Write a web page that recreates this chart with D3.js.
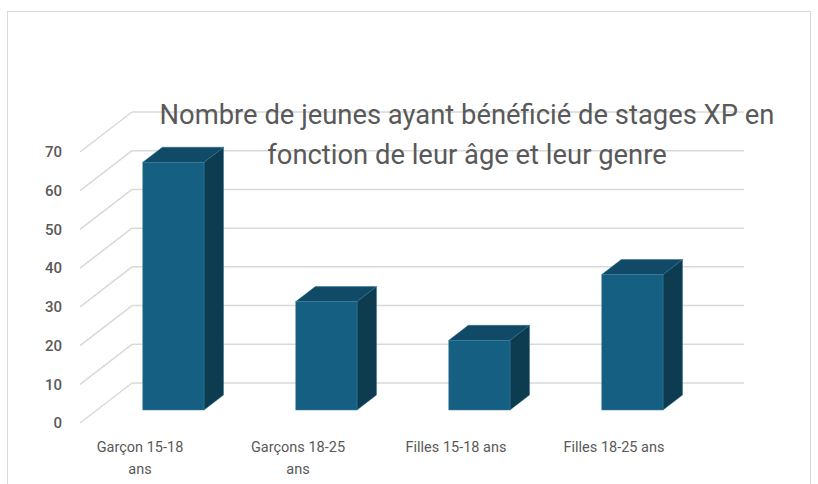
<!DOCTYPE html>
<html>
<head>
<meta charset="utf-8">
<script src="https://cdn.jsdelivr.net/npm/d3@7"></script>
<style>
  body { margin: 0; background: #fff; }
  svg { display: block; font-family: Roboto, "Open Sans", sans-serif; }
</style>
</head>
<body>
<div id="chart"></div>
<script>
// data
const categories = ['Garçon 15-18 ans', 'Garçons 18-25 ans', 'Filles 15-18 ans', 'Filles 18-25 ans'];
const labelLines = [['Garçon 15-18', 'ans'], ['Garçons 18-25', 'ans'], ['Filles 15-18 ans'], ['Filles 18-25 ans']];
const values = [64, 28, 18, 35];
const yTicks = [0, 10, 20, 30, 40, 50, 60, 70];
const titleLines = ['Nombre de jeunes ayant bénéficié de stages XP en', 'fonction de leur âge et leur genre'];

const width = 818;
const height = 484;

// 3d look: depth vector of the floor, bars sit in the middle of it
const depth = { dx: 52, dy: -40 };
const barFront = 0.325, barBack = 0.7;

const svg = d3.select('#chart').append('svg')
  .attr('width', width)
  .attr('height', height);

// chart area frame
svg.append('rect')
  .attr('x', 7.5).attr('y', 11.5)
  .attr('width', 803).attr('height', 490)
  .attr('fill', '#fff')
  .attr('stroke', '#d9d9d9')
  .attr('stroke-width', 1);

const x = d3.scaleBand()
  .domain(categories)
  .range([80, 692])
  .paddingInner(0.6)
  .paddingOuter(0.3);

const xLabel = d3.scaleBand()
  .domain(categories)
  .range([61, 693]);

const y = d3.scaleLinear()
  .domain([0, 70])
  .range([423, 152]);

const shift = (f) => [f * depth.dx, f * depth.dy];

// gridlines: back wall + diagonal on the left side wall
const grid = svg.append('g');
yTicks.forEach(t => {
  const [bx, by] = shift(1);
  grid.append('line')
    .attr('x1', x.range()[0] + bx).attr('x2', x.range()[1] + bx)
    .attr('y1', y(t) + by).attr('y2', y(t) + by)
    .attr('stroke', '#d9d9d9').attr('stroke-width', 1.5);
  grid.append('line')
    .attr('x1', x.range()[0]).attr('x2', x.range()[0] + bx)
    .attr('y1', y(t)).attr('y2', y(t) + by)
    .attr('stroke', '#d9d9d9').attr('stroke-width', 1.5);
});

// y labels
svg.append('g').selectAll('text')
  .data(yTicks)
  .join('text')
  .attr('x', 62)
  .attr('y', d => y(d))
  .attr('dy', '0.35em')
  .attr('text-anchor', 'end')
  .attr('fill', '#595959')
  .style('font-size', '15px')
  .style('font-weight', 500)
  .text(d => d);

// title (drawn before bars, the gridlines run through it)
const title = svg.append('g');
titleLines.forEach((line, i) => {
  title.append('text')
    .attr('x', 467)
    .attr('y', 124 + i * 40)
    .attr('text-anchor', 'middle')
    .attr('fill', '#595959')
    .style('font-size', '23px')
    .text(line);
});
// fit first line to the measured width of the original
const t0 = title.select('text').node();
const fs = 23 * 615 / t0.getComputedTextLength();
title.selectAll('text').style('font-size', fs + 'px');

// bars
const bars = svg.append('g').selectAll('g')
  .data(categories.map((c, i) => ({ cat: c, value: values[i] })))
  .join('g');

bars.each(function (d) {
  const g = d3.select(this);
  const [fx, fy] = shift(barFront);
  const [kx, ky] = shift(barBack);
  const xl = x(d.cat), xr = x(d.cat) + x.bandwidth();
  const yt = y(d.value), yb = y(0);

  // side
  g.append('path')
    .attr('d', `M${xr + fx},${yt + fy}L${xr + kx},${yt + ky}L${xr + kx},${yb + ky}L${xr + fx},${yb + fy}Z`)
    .attr('fill', '#0d3c51')
    .attr('stroke', '#2a6f8c').attr('stroke-width', 0.5);
  // top
  g.append('path')
    .attr('d', `M${xl + fx},${yt + fy}L${xr + fx},${yt + fy}L${xr + kx},${yt + ky}L${xl + kx},${yt + ky}Z`)
    .attr('fill', '#104a66')
    .attr('stroke', '#2a6f8c').attr('stroke-width', 0.5);
  // front
  g.append('rect')
    .attr('x', xl + fx).attr('y', yt + fy)
    .attr('width', x.bandwidth()).attr('height', yb - yt)
    .attr('fill', '#156082')
    .attr('stroke', '#3a7f9c').attr('stroke-width', 0.5);
});

// category labels
const lab = svg.append('g').selectAll('text')
  .data(categories)
  .join('text')
  .attr('text-anchor', 'middle')
  .attr('fill', '#595959')
  .style('font-size', '14.5px');

lab.each(function (d, i) {
  const el = d3.select(this);
  labelLines[i].forEach((line, j) => {
    el.append('tspan')
      .attr('x', xLabel(d) + xLabel.bandwidth() / 2)
      .attr('y', 452 + j * 22)
      .text(line);
  });
});
</script>
</body>
</html>
